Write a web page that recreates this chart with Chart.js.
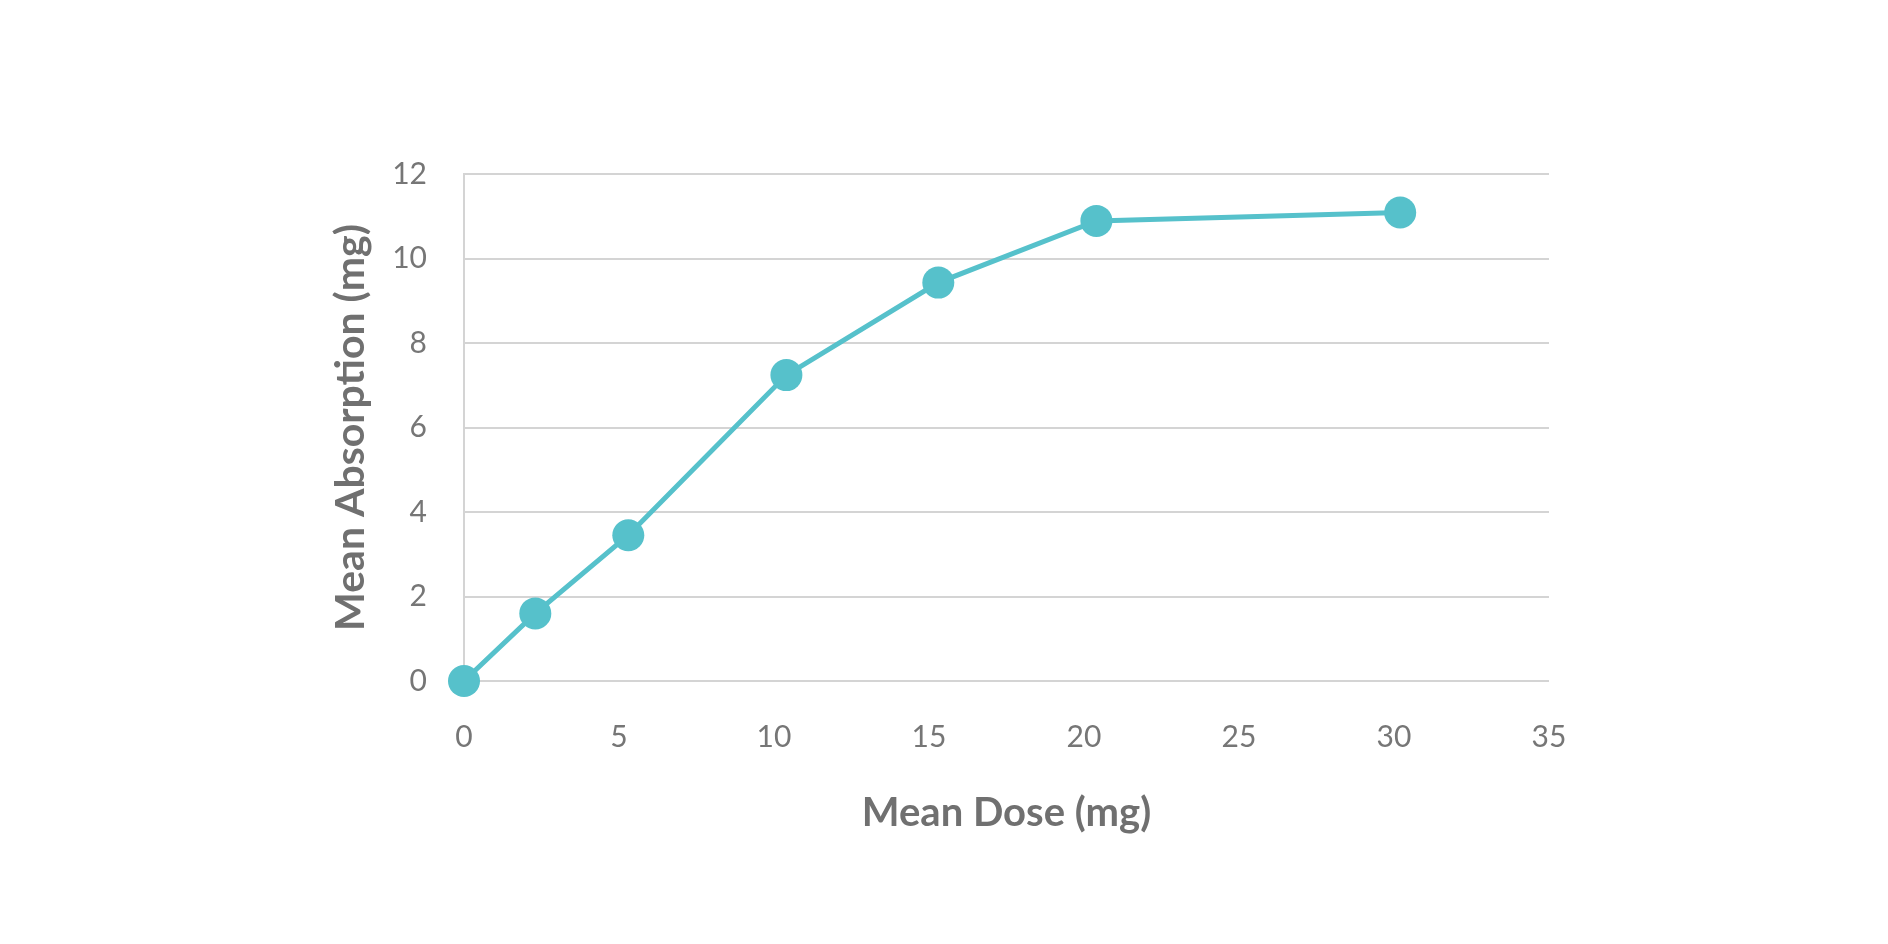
<!DOCTYPE html>
<html>
<head>
<meta charset="utf-8">
<script src="https://cdn.jsdelivr.net/npm/chart.js@4/dist/chart.umd.min.js"></script>
<style>
  html, body { margin: 0; padding: 0; background: #fff; }
  #chart { display: block; }
</style>
</head>
<body>
<canvas id="chart" width="1888" height="944"></canvas>
<script>
// mean dose (mg) and mean absorption (mg)
const meanDose = [0, 2.3, 5.3, 10.4, 15.3, 20.4, 30.2];
const meanAbsorption = [0, 1.6, 3.45, 7.24, 9.43, 10.89, 11.09];

const xTitle = 'Mean Dose (mg)';
const yTitle = 'Mean Absorption (mg)';

const teal = '#56c1cb';
const gridGray = '#d4d4d4';
const tickGray = '#767676';
const titleGray = '#707070';

const points = meanDose.map((d, i) => ({ x: d, y: meanAbsorption[i] }));

const ctx = document.getElementById('chart');

new Chart(ctx, {
    type: 'line',
    data: {
        datasets: [{
            data: points,
            borderColor: teal,
            backgroundColor: teal,
            borderWidth: 5,
            pointRadius: 16,
            pointHoverRadius: 16,
            pointBorderWidth: 0,
            tension: 0,
            fill: false,
            clip: false
        }]
    },
    options: {
        responsive: false,
        devicePixelRatio: 1,
        animation: false,
        layout: {
            padding: { left: 300, right: 339, top: 174, bottom: 80 }
        },
        plugins: {
            legend: { display: false },
            tooltip: { enabled: false }
        },
        scales: {
            x: {
                type: 'linear',
                min: 0,
                max: 35,
                ticks: {
                    stepSize: 5,
                    padding: 38,
                    color: tickGray,
                    font: { family: 'Lato', size: 30 },
                    maxRotation: 0
                },
                grid: { display: false, drawTicks: false },
                border: { display: false },
                title: {
                    display: true,
                    text: xTitle,
                    color: titleGray,
                    font: { family: 'Lato', size: 40, weight: 'bold' },
                    padding: { top: 0, bottom: 27 }
                },
                afterFit: (scale) => { scale.height = 183; }
            },
            y: {
                min: 0,
                max: 12,
                ticks: {
                    stepSize: 2,
                    padding: 37,
                    color: tickGray,
                    font: { family: 'Lato', size: 30 }
                },
                grid: { color: gridGray, lineWidth: 2, drawTicks: false },
                border: { display: true, color: gridGray, width: 2 },
                title: {
                    display: true,
                    text: yTitle,
                    color: titleGray,
                    font: { family: 'Lato', size: 41, weight: 'bold' },
                    padding: { top: 26, bottom: 0 }
                },
                afterFit: (scale) => { scale.width = 164; }
            }
        }
    }
});
</script>
</body>
</html>
